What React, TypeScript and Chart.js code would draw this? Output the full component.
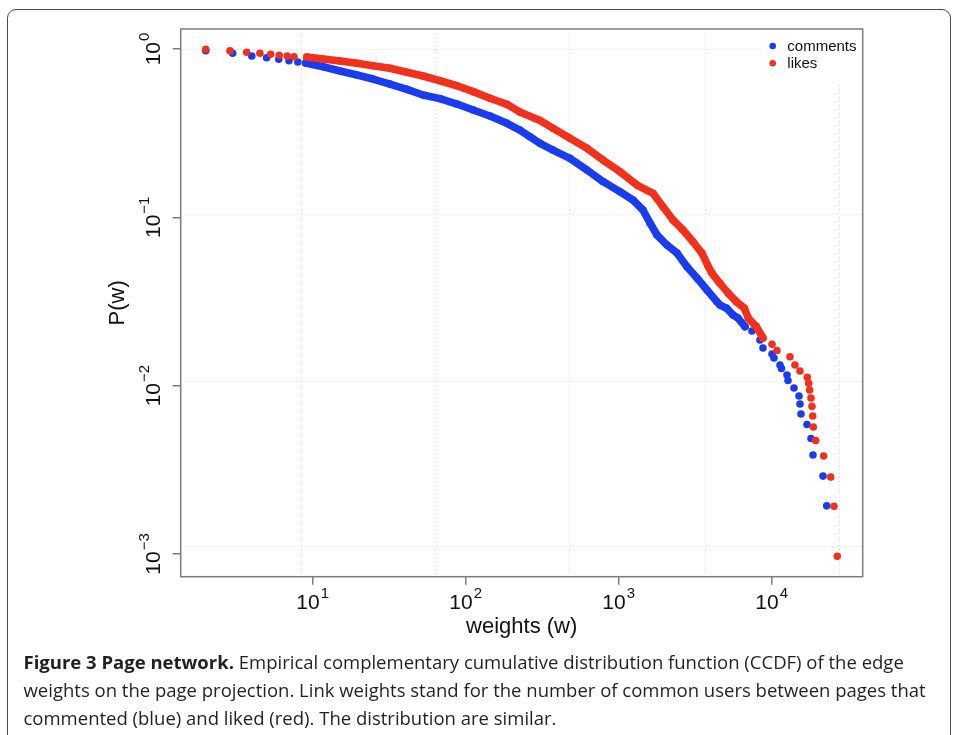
import { useEffect, useRef } from "react";
import { Chart, registerables } from "chart.js";

Chart.register(...registerables);

// likes (red): weight w and CCDF P(w)
const likesW = [
  2, 2.88, 3.7, 4.52, 5.31, 6.05, 6.82, 7.55,
  9.14, 11.7, 15.1, 19.5, 24.8, 32, 41.3, 52.6, 67.9, 87.7, 112, 144, 186, 226,
  306, 372, 480, 621, 790, 1020, 1317, 1676, 1948, 2264, 2632, 3059, 3503, 3835,
  4073, 4593, 5212, 5880, 6632, 7043, 7943, 8773,
  10046, 10830, 13170, 14200, 15310, 17090, 17450, 17690, 18070, 18340, 18540,
  18710, 19390, 21870, 24300, 25540, 26840,
];
const likesP = [
  0.996, 0.977, 0.956, 0.943, 0.93, 0.918, 0.909, 0.9,
  0.897, 0.872, 0.849, 0.822, 0.796, 0.768, 0.727, 0.691, 0.648, 0.605, 0.558,
  0.51, 0.469, 0.422, 0.376, 0.338, 0.295, 0.257, 0.219, 0.1866, 0.1555, 0.1389,
  0.1156, 0.0964, 0.0841, 0.0716, 0.0611, 0.0514, 0.0465, 0.0405, 0.0353, 0.0315,
  0.0288, 0.0251, 0.0224, 0.01918,
  0.01759, 0.01616, 0.01485, 0.01326, 0.01221, 0.0112, 0.01032, 0.00942, 0.00844,
  0.00753, 0.0066, 0.00568, 0.00472, 0.00382, 0.00286, 0.00192, 0.000968,
];
// weights where the dots overlap into a solid band
const likesBand = [9.14, 8773];

// comments (blue)
const commentsW = [
  2, 3, 4, 5, 6, 7, 8,
  9, 10, 11.7, 15.1, 19.5, 24.8, 32, 41.3, 52.6, 67.9, 87.7, 112, 144, 186, 226,
  263, 306, 372, 480, 621, 790, 1020, 1240, 1441, 1602, 1780, 2069, 2404, 2795,
  3249, 3777, 4390, 4593, 5080, 5587, 6022, 6692,
  7433, 8385, 8773, 10046, 10351, 11331, 11590, 12589, 12780, 13990, 15080, 15310,
  15540, 17010, 18070, 18620, 21640, 22880,
];
const commentsP = [
  0.977, 0.943, 0.909, 0.888, 0.869, 0.852, 0.837,
  0.826, 0.809, 0.785, 0.74, 0.701, 0.663, 0.619, 0.576, 0.533, 0.507, 0.471,
  0.434, 0.4, 0.362, 0.33, 0.301, 0.275, 0.251, 0.224, 0.191, 0.163, 0.142, 0.1267,
  0.1105, 0.0925, 0.0785, 0.0684, 0.0614, 0.0509, 0.0436, 0.037, 0.0315, 0.0301,
  0.0288, 0.0263, 0.0252, 0.0224,
  0.0211, 0.01866, 0.01673, 0.01541, 0.01459, 0.01326, 0.01264, 0.01156, 0.01072,
  0.00968, 0.00867, 0.00777, 0.00678, 0.00587, 0.00485, 0.00387, 0.0029, 0.00193,
];
const commentsBand = [9, 6692];

const seriesNames = ["comments", "likes"];

const xTicks = [10, 100, 1000, 10000];
const yTicks = [1, 0.1, 0.01, 0.001];
// the dotted grid does not sit on the ticks in the original
const gridW = [8.35, 63, 475, 3638, 27540];
const gridP = [1, 0.1042, 0.01069, 0.001114];
const xRange = [1.372, 39340];
const yRange = [0.000732, 1.315];

const BLUE = "#1a3cf0";
const RED = "#f3301c";
const AXIS = "#7c7c7c";
const FONT = '"Liberation Sans", Arial, Helvetica, sans-serif';

const W = 954;
const H = 650;
const PLOT = { left: 180.7, top: 29, right: 862.7, bottom: 576.7 };

const toPoints = (w: number[], p: number[]) => w.map((x, i) => ({ x, y: p[i] }));

const expText = (v: number) => {
  const e = Math.round(Math.log10(v));
  return e < 0 ? "\u2212" + Math.abs(e) : String(e);
};

// "10" with a raised exponent, centred on cx
const drawPow = (ctx: CanvasRenderingContext2D, exp: string, cx: number, baseline: number) => {
  ctx.font = `21px ${FONT}`;
  const wb = ctx.measureText("10").width;
  ctx.font = `15px ${FONT}`;
  const we = ctx.measureText(exp).width;
  const x0 = cx - (wb + we + 1) / 2;
  ctx.font = `21px ${FONT}`;
  ctx.fillText("10", x0, baseline);
  ctx.font = `15px ${FONT}`;
  ctx.fillText(exp, x0 + wb + 1, baseline - 11);
};

const rStyle = {
  id: "rStyle",
  beforeDatasetsDraw(chart: any) {
    const { ctx, chartArea: a, scales } = chart;
    ctx.save();
    ctx.beginPath();
    ctx.rect(a.left, a.top, a.right - a.left, a.bottom - a.top);
    ctx.clip();
    ctx.strokeStyle = "#d4d4d4";
    ctx.lineWidth = 1;
    ctx.setLineDash([1, 3]);
    gridW.forEach((v) => {
      const x = Math.round(scales.x.getPixelForValue(v)) + 0.5;
      ctx.beginPath();
      ctx.moveTo(x, a.top);
      ctx.lineTo(x, a.bottom);
      ctx.stroke();
    });
    gridP.forEach((v) => {
      const y = Math.round(scales.y.getPixelForValue(v)) + 0.5;
      ctx.beginPath();
      ctx.moveTo(a.left, y);
      ctx.lineTo(a.right, y);
      ctx.stroke();
    });
    // legend background
    ctx.fillStyle = "#ffffff";
    ctx.fillRect(a.right - 101, a.top, 101, 53);
    ctx.restore();
  },
  afterDatasetsDraw(chart: any) {
    const { ctx, chartArea: a, scales } = chart;
    ctx.save();
    ctx.strokeStyle = AXIS;
    ctx.lineWidth = 1.5;
    ctx.strokeRect(a.left, a.top, a.right - a.left, a.bottom - a.top);

    ctx.fillStyle = "#111";
    ctx.textAlign = "left";
    ctx.textBaseline = "alphabetic";
    xTicks.forEach((v) => drawPow(ctx, expText(v), scales.x.getPixelForValue(v), a.bottom + 32.6));
    yTicks.forEach((v) => {
      ctx.save();
      ctx.translate(a.left - 20.7, scales.y.getPixelForValue(v));
      ctx.rotate(-Math.PI / 2);
      drawPow(ctx, expText(v), 0, 0);
      ctx.restore();
    });

    ctx.font = `22px ${FONT}`;
    ctx.textAlign = "center";
    ctx.fillText("weights (w)", (a.left + a.right) / 2, a.bottom + 56.3);
    ctx.save();
    ctx.translate(a.left - 56.7, (a.top + a.bottom) / 2);
    ctx.rotate(-Math.PI / 2);
    ctx.fillText("P(w)", 0, 0);
    ctx.restore();

    // legend
    ctx.textAlign = "left";
    ctx.textBaseline = "middle";
    ctx.font = `15px ${FONT}`;
    [BLUE, RED].forEach((c, i) => {
      const y = a.top + 17 + i * 17.3;
      ctx.fillStyle = c;
      ctx.beginPath();
      ctx.arc(a.right - 90, y, 3.3, 0, Math.PI * 2);
      ctx.fill();
      ctx.fillStyle = "#111";
      ctx.fillText(seriesNames[i], a.right - 75.4, y + 0.5);
    });
    ctx.restore();
  },
};

const band = (w: number[], range: number[], color: string) => ({
  borderColor: (c: any) =>
    w[c.p0DataIndex] >= range[0] && w[c.p1DataIndex] <= range[1] ? color : "rgba(0,0,0,0)",
});

const series = (label: string, w: number[], p: number[], range: number[], color: string) => ({
  label,
  data: toPoints(w, p),
  showLine: true,
  borderColor: color,
  borderWidth: 7.6,
  borderCapStyle: "round" as const,
  borderJoinStyle: "round" as const,
  segment: band(w, range, color),
  pointRadius: 3.8,
  pointHoverRadius: 3.8,
  pointBorderWidth: 0,
  pointBackgroundColor: color,
});

export default function App() {
  const canvasRef = useRef<HTMLCanvasElement | null>(null);
  const chartRef = useRef<Chart | null>(null);

  useEffect(() => {
    chartRef.current?.destroy();
    if (!canvasRef.current) return;
    chartRef.current = new Chart(canvasRef.current, {
      type: "scatter",
      data: {
        // likes first so it is painted on top
        datasets: [
          series(seriesNames[1], likesW, likesP, likesBand, RED),
          series(seriesNames[0], commentsW, commentsP, commentsBand, BLUE),
        ],
      },
      options: {
        responsive: false,
        animation: false,
        events: [],
        layout: { padding: { top: PLOT.top, right: W - PLOT.right, left: 0, bottom: 0 } },
        plugins: { legend: { display: false }, tooltip: { enabled: false } },
        scales: {
          x: {
            type: "logarithmic",
            min: xRange[0],
            max: xRange[1],
            afterBuildTicks: (s: any) => {
              s.ticks = xTicks.map((value) => ({ value }));
            },
            afterFit: (s: any) => {
              s.height = H - PLOT.bottom;
            },
            ticks: { display: false },
            border: { display: false },
            grid: { drawOnChartArea: false, drawTicks: true, tickLength: 8, tickColor: AXIS, lineWidth: 1.5 },
          },
          y: {
            type: "logarithmic",
            min: yRange[0],
            max: yRange[1],
            afterBuildTicks: (s: any) => {
              s.ticks = yTicks.map((value) => ({ value }));
            },
            afterFit: (s: any) => {
              s.width = PLOT.left;
            },
            ticks: { display: false },
            border: { display: false },
            grid: { drawOnChartArea: false, drawTicks: true, tickLength: 8, tickColor: AXIS, lineWidth: 1.5 },
          },
        },
      },
      plugins: [rStyle],
    });
    return () => {
      chartRef.current?.destroy();
      chartRef.current = null;
    };
  }, []);

  return (
    <div style={{ position: "fixed", left: 0, top: 0, width: W, height: 735, overflow: "hidden", background: "#fff" }}>
      <div
        style={{
          position: "absolute",
          left: 7,
          top: 9,
          width: 944,
          height: 800,
          boxSizing: "border-box",
          border: "1.5px solid #4a4a4a",
          borderRadius: 9,
        }}
      />
      <canvas ref={canvasRef} width={W} height={H} style={{ position: "absolute", left: 0, top: 0, display: "block" }} />
      <div
        style={{
          position: "absolute",
          left: 23.5,
          top: 647.7,
          fontFamily: '"Open Sans", sans-serif',
          fontSize: 18.5,
          lineHeight: "28.3px",
          color: "#231f20",
          whiteSpace: "nowrap",
        }}
      >
        <b>Figure 3 Page network.</b> Empirical complementary cumulative distribution function (CCDF) of the edge
        <br />
        weights on the page projection. Link weights stand for the number of common users between pages that
        <br />
        commented (blue) and liked (red). The distribution are similar.
      </div>
    </div>
  );
}
